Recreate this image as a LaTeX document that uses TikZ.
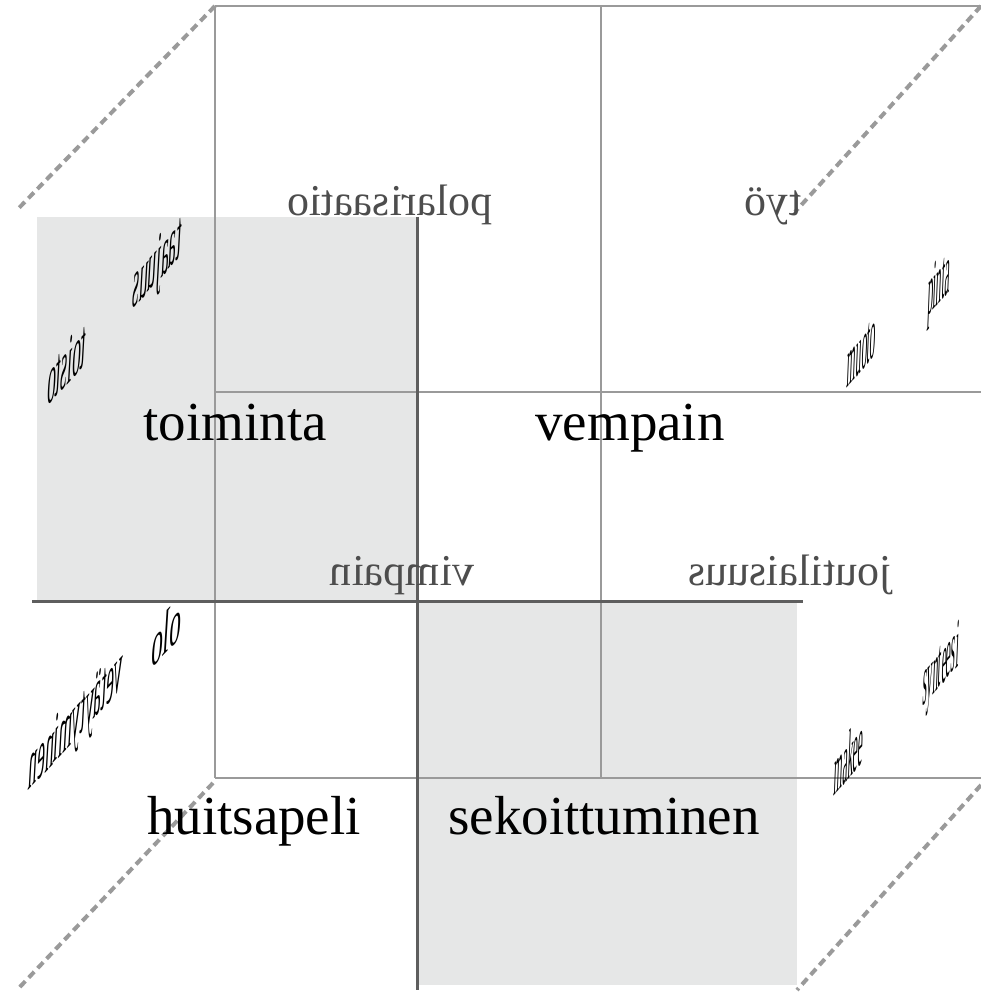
\documentclass[tikz,border=0pt]{standalone}
\usepackage{fontspec}
\setmainfont{Liberation Serif}
\definecolor{fillgray}{HTML}{E6E7E7}
\definecolor{backline}{HTML}{9A9A9A}
\definecolor{frontline}{HTML}{5E5E5E}
\definecolor{dashgray}{HTML}{9A9A9A}
\definecolor{mirrortext}{HTML}{4D4D4D}
\begin{document}
\begin{tikzpicture}[x=1pt,y=-1pt,
  backedge/.style={draw=backline, line width=1.8pt},
  frontedge/.style={draw=frontline, line width=3pt},
  depthedge/.style={draw=dashgray, line width=4pt, dash pattern=on 8pt off 5pt},
  shade/.style={fill=fillgray},
  biglabel/.style={inner sep=0pt, anchor=base, font=\fontsize{55}{60}\selectfont},
  mirrorlabel/.style={inner sep=0pt, anchor=base, text=mirrortext, xscale=-1, font=\fontsize{44}{48}\selectfont},
  rightface/.style={inner sep=0pt, cm={0.28,0.32,0.07,1.8,(0,0)}, font=\fontsize{40}{44}\selectfont},
  leftface/.style={inner sep=0pt, cm={-0.43,-0.47,0.1,1.8,(0,0)}, font=\fontsize{40}{44}\selectfont},
  leftwide/.style={inner sep=0pt, cm={-0.58,-0.6,0.1,1.6,(0,0)}, font=\fontsize{40}{44}\selectfont}
]
\useasboundingbox (0,0) rectangle (981,992);
% corners
\coordinate (btl) at (215,6);
\coordinate (btm) at (601,6);
\coordinate (btr) at (981,6);
\coordinate (bml) at (215,392);
\coordinate (bmr) at (981,392);
\coordinate (bbl) at (215,778);
\coordinate (bbm) at (601,778);
\coordinate (bbr) at (981,778);
\coordinate (fml) at (32,601);
\coordinate (fmr) at (803,601);
\coordinate (fmt) at (417,217);
\coordinate (fmb) at (417,990);
\coordinate (dtl) at (17,210);
\coordinate (dtr) at (795,212);
\coordinate (dbls) at (213,783);
\coordinate (dbl) at (17,990);
\coordinate (dbrs) at (981,785);
\coordinate (dbr) at (797,990);
% shaded quadrants
\fill[shade] (37,217) rectangle (417,601);
\fill[shade] (417,601) rectangle (797,985);
% back face
\draw[backedge] (btl) -- (btr);
\draw[backedge] (btl) -- (bbl);
\draw[backedge] (btm) -- (bbm);
\draw[backedge] (bml) -- (bmr);
\draw[backedge] (bbl) -- (bbr);
% depth edges
\draw[depthedge] (btl) -- (dtl);
\draw[depthedge] (btr) -- (dtr);
\draw[depthedge] (dbls) -- (dbl);
\draw[depthedge] (dbrs) -- (dbr);
% front axes
\draw[frontedge] (fml) -- (fmr);
\draw[frontedge] (fmt) -- (fmb);
% mirrored labels
\node[mirrorlabel] (polar) at (390,216) {polarisaatio};
\node[mirrorlabel] (tyo) at (773,216) {työ};
\node[mirrorlabel] (vimp) at (402,585) {vimpain};
\node[mirrorlabel] (jout) at (790,585) {joutilaisuus};
% big labels
\node[biglabel] (toim) at (235,440) {toiminta};
\node[biglabel] (vemp) at (630,440) {vempain};
\node[biglabel] (huit) at (254,834) {huitsapeli};
\node[biglabel] (seko) at (604,834) {sekoittuminen};
% left face labels
\node[leftface] (taaj) at (157,267) {taajuus};
\node[leftface] (tois) at (67,363) {toisto};
\node[leftwide] (olo) at (167,632) {olo};
\node[leftface] (veta) at (76,724) {vetäytyminen};
% right face labels
\node[rightface] (pint) at (939,288) {pinta};
\node[rightface] (muot) at (862,352) {muoto};
\node[rightface] (synt) at (941,670) {synteesi};
\node[rightface] (make) at (849,755) {makee};
\end{tikzpicture}
\end{document}
